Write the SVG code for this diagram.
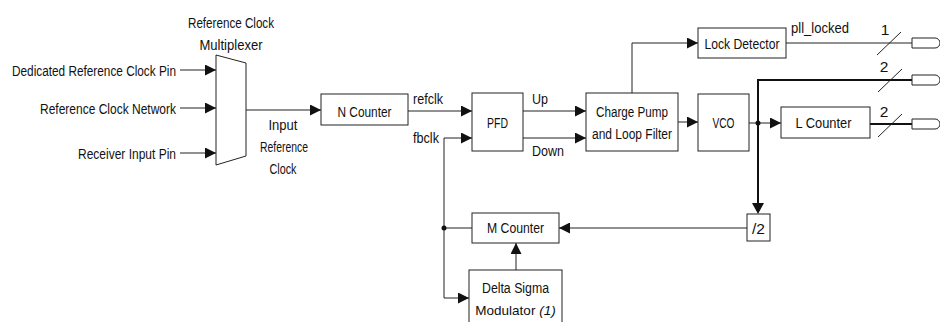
<svg xmlns="http://www.w3.org/2000/svg" width="940" height="322" viewBox="0 0 940 322">
<style>
text{font-family:"Liberation Sans",Arial,sans-serif;font-size:15.5px;fill:#111}
.m{text-anchor:middle}
.e{text-anchor:end}
.s{font-size:13.5px}
.b{fill:#fff;stroke:#222;stroke-width:1}
.l{fill:none;stroke:#222;stroke-width:1}
.t{fill:none;stroke:#111;stroke-width:2}
.a{marker-end:url(#ah)}
</style>
<defs>
<marker id="ah" viewBox="0 0 10 10" refX="10" refY="5" markerWidth="11" markerHeight="11" markerUnits="userSpaceOnUse" orient="auto">
<path d="M0,0L10,5L0,10Z" fill="#111"/>
</marker>
</defs>
<g id="connectors">
<path class="l a" d="M180,70H216"/>
<path class="l a" d="M180,108H216"/>
<path class="l a" d="M180,153H216"/>
<path class="l a" d="M246,110H321"/>
<path class="l a" d="M408,111H472"/>
<path class="l a" d="M444,298V138H472"/>
<path class="l a" d="M444,298H469"/>
<path class="l a" d="M523,111H586"/>
<path class="l a" d="M523,138H586"/>
<path class="l a" d="M632,93V43H698"/>
<path class="l a" d="M678,122H698"/>
<path class="l a" d="M749,123H781"/>
<path class="l" d="M786,43H912"/>
<path class="t" d="M912,80H758V204"/>
<path d="M752,203L758,214L764,203Z" fill="#111"/>
<path class="t" d="M870,124H912"/>
<path class="l a" d="M747,228H559"/>
<path class="l" d="M444,228H472"/>
<path class="l a" d="M516,270V243"/>
<circle cx="444" cy="228" r="2.5" fill="#111"/>
<circle cx="758" cy="123" r="2.5" fill="#111"/>
<path class="l" d="M877,55L901,32M878,92L902,69M878,137L902,114"/>
<text x="885" y="35" class="m">1</text>
<text x="884" y="72" class="m">2</text>
<text x="884" y="117" class="m">2</text>
<text x="413" y="104" textLength="30" lengthAdjust="spacingAndGlyphs">refclk</text>
<text x="439" y="143" class="e" textLength="26" lengthAdjust="spacingAndGlyphs">fbclk</text>
<text x="532" y="104" textLength="16" lengthAdjust="spacingAndGlyphs">Up</text>
<text x="532" y="156" textLength="32" lengthAdjust="spacingAndGlyphs">Down</text>
<text x="791" y="33" textLength="58" lengthAdjust="spacingAndGlyphs">pll_locked</text>
<text x="283" y="130" class="m" textLength="29" lengthAdjust="spacingAndGlyphs">Input</text>
<text x="284" y="152" class="m" textLength="48" lengthAdjust="spacingAndGlyphs">Reference</text>
<text x="283" y="174" class="m" textLength="27" lengthAdjust="spacingAndGlyphs">Clock</text>
</g>
<g id="inputs">
<text x="176" y="76" class="e" textLength="164" lengthAdjust="spacingAndGlyphs">Dedicated Reference Clock Pin</text>
<text x="176" y="114" class="e" textLength="136" lengthAdjust="spacingAndGlyphs">Reference Clock Network</text>
<text x="176" y="159" class="e" textLength="98" lengthAdjust="spacingAndGlyphs">Receiver Input Pin</text>
</g>
<g id="mux">
<path class="b" d="M216,55L246,63V156L216,165Z"/>
<text x="231" y="28" class="m" textLength="86" lengthAdjust="spacingAndGlyphs">Reference Clock</text>
<text x="231" y="50" class="m" textLength="63" lengthAdjust="spacingAndGlyphs">Multiplexer</text>
</g>
<g id="ncounter"><rect class="b" x="321" y="94" width="87" height="31"/><text x="364.5" y="116.5" class="m" textLength="54" lengthAdjust="spacingAndGlyphs">N Counter</text></g>
<g id="pfd"><rect class="b" x="472" y="93" width="51" height="58"/><text x="497.5" y="128" class="m" textLength="21" lengthAdjust="spacingAndGlyphs">PFD</text></g>
<g id="chargepump"><rect class="b" x="586" y="93" width="92" height="58"/><text x="632" y="117" class="m" textLength="72" lengthAdjust="spacingAndGlyphs">Charge Pump</text><text x="632" y="139" class="m" textLength="80" lengthAdjust="spacingAndGlyphs">and Loop Filter</text></g>
<g id="vco"><rect class="b" x="698" y="94" width="51" height="57"/><text x="723.5" y="128" class="m" textLength="22" lengthAdjust="spacingAndGlyphs">VCO</text></g>
<g id="lockdetector"><rect class="b" x="698" y="28" width="88" height="30"/><text x="742" y="49" class="m" textLength="75" lengthAdjust="spacingAndGlyphs">Lock Detector</text></g>
<g id="lcounter"><rect class="b" x="781" y="107" width="89" height="31"/><text x="823.5" y="128" class="m" textLength="56" lengthAdjust="spacingAndGlyphs">L Counter</text></g>
<g id="div2"><rect class="b" x="747" y="214" width="23" height="27"/><text x="758.5" y="234" class="m" textLength="13" lengthAdjust="spacingAndGlyphs">/2</text></g>
<g id="mcounter"><rect class="b" x="472" y="213" width="87" height="30"/><text x="515.5" y="233" class="m" textLength="57" lengthAdjust="spacingAndGlyphs">M Counter</text></g>
<g id="deltasigma"><rect class="b" x="469" y="270" width="93" height="60"/><text x="515.5" y="293" class="m" textLength="67" lengthAdjust="spacingAndGlyphs">Delta Sigma</text><text x="515.5" y="315" class="m s">Modulator <tspan font-style="italic">(1)</tspan></text></g>
<g id="pins">
<path class="b" d="M912,38H935A5,5 0 0 1 935,48H912Z"/>
<path class="b" d="M912,75H935A5,5 0 0 1 935,85H912Z"/>
<path class="b" d="M912,119H935A5,5 0 0 1 935,129H912Z"/>
</g>
</svg>
